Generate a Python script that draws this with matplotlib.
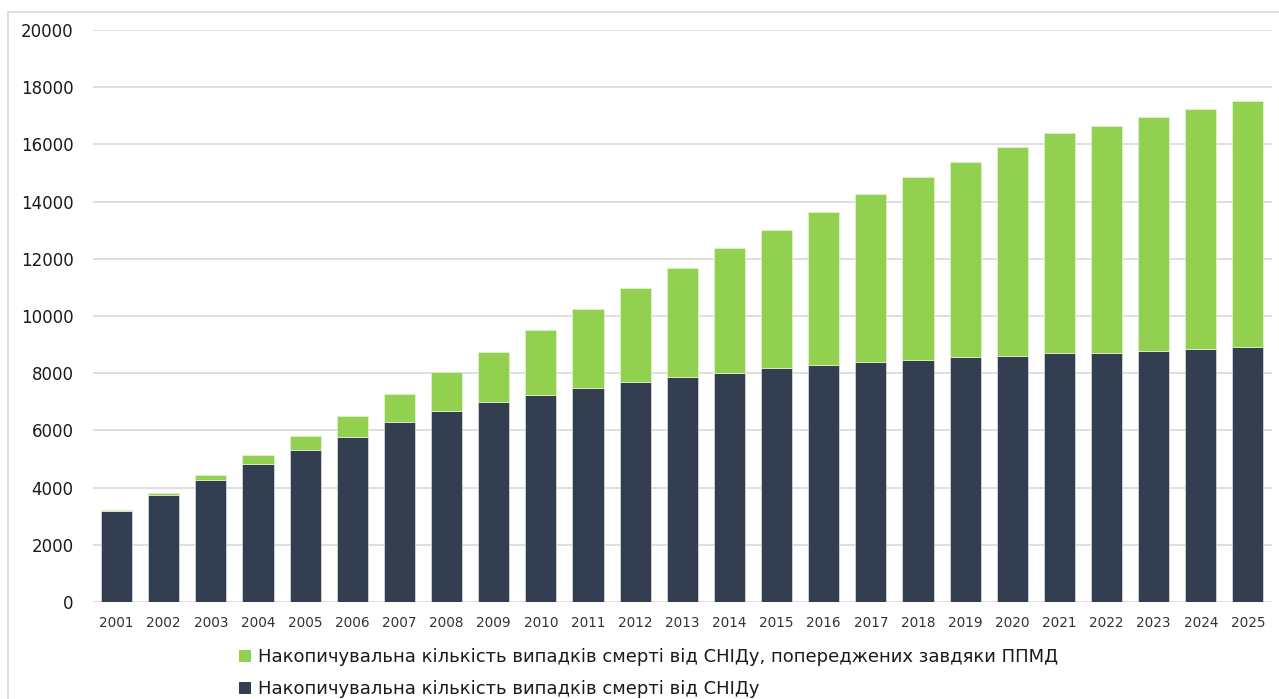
import matplotlib
matplotlib.use('Agg')
import matplotlib.pyplot as plt
from matplotlib.patches import Patch, Rectangle
import numpy as np

# Роки прогнозу та накопичувальні показники
years = [str(y) for y in range(2001, 2026)]

# Накопичувальна кількість випадків смерті від СНІДу
deaths = [3180, 3730, 4280, 4815, 5305, 5760, 6305, 6680, 6995, 7240,
          7470, 7690, 7855, 8005, 8170, 8275, 8380, 8470, 8555, 8590,
          8695, 8720, 8765, 8835, 8905]

# Загальна висота стовпця (смерті + попереджені завдяки ППМД)
totals = [3220, 3810, 4440, 5130, 5805, 6515, 7275, 8055, 8740, 9500,
          10235, 10990, 11690, 12380, 13015, 13645, 14275, 14870, 15385, 15895,
          16385, 16655, 16945, 17240, 17530]

averted = [t - d for t, d in zip(totals, deaths)]

label_averted = 'Накопичувальна кількість випадків смерті від СНІДу, попереджених завдяки ППМД'
label_deaths = 'Накопичувальна кількість випадків смерті від СНІДу'

DARK = '#333F50'
GREEN = '#92D050'
GRID = '#D9D9D9'

plt.rcParams['font.family'] = ['DejaVu Sans']

fig = plt.figure(figsize=(12.79, 6.99), dpi=100)
ax = fig.add_axes([93 / 1279, 1 - 602 / 699, (1271.5 - 93) / 1279, (602 - 30) / 699])

x = np.arange(len(years))
ax.bar(x, deaths, width=0.66, color=DARK, edgecolor='#DDE1E6', linewidth=0.5, zorder=3)
ax.bar(x, averted, width=0.66, bottom=deaths, color=GREEN, edgecolor='#E6F5D6',
       linewidth=0.5, zorder=3)

ax.set_xlim(-0.5, len(years) - 0.5)
ax.set_ylim(0, 20000)
ax.set_yticks(range(0, 20001, 2000))
ax.set_xticks(x)
ax.set_xticklabels(years)
ax.yaxis.grid(True, color=GRID, linewidth=1.2, zorder=0)
ax.set_axisbelow(True)
for s in ax.spines.values():
    s.set_visible(False)
ax.tick_params(axis='y', length=0, pad=14, labelsize=12, labelcolor='#1a1a1a')
ax.tick_params(axis='x', length=0, pad=10, labelsize=9.8, labelcolor='#333333')

# Легенда під графіком
handles = [Patch(facecolor=GREEN, edgecolor='none'), Patch(facecolor=DARK, edgecolor='none')]
fig.legend(handles, [label_averted, label_deaths], loc='upper left',
           bbox_to_anchor=(239 / 1279, 1 - 648 / 699), frameon=False,
           fontsize=13, handlelength=0.66, handleheight=0.66, handletextpad=0.4,
           labelspacing=0.8, borderpad=0, borderaxespad=0, labelcolor='#1a1a1a')

# Світла рамка навколо області діаграми
fig.patches.append(Rectangle((8 / 1279, -0.1), 1.2, 1.1 - 12 / 699, transform=fig.transFigure,
                             fill=False, edgecolor=GRID, linewidth=1.2))

fig.savefig('out.png', dpi=100)
